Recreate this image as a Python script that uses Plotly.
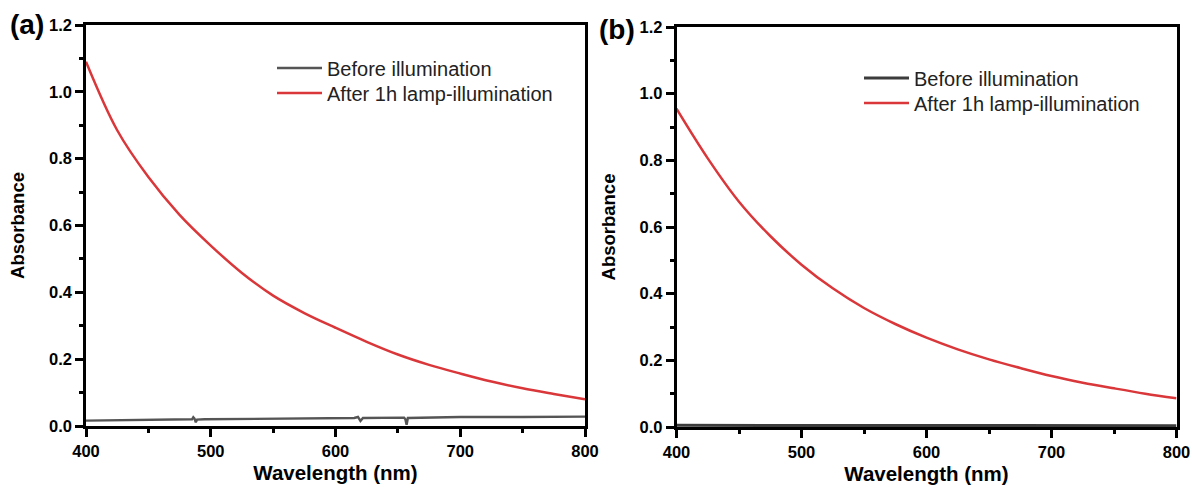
import plotly.graph_objects as go

# ---------------- data ----------------
wl_after_a = [400, 425, 450, 475, 500, 525, 550, 575, 600, 625, 650, 675, 700, 725, 750, 775, 800]
abs_after_a = [1.090, 0.885, 0.745, 0.632, 0.540, 0.458, 0.390, 0.338, 0.294, 0.252, 0.214, 0.183,
               0.157, 0.133, 0.113, 0.096, 0.080]

wl_before_a = [400, 420, 440, 460, 480, 485, 486, 487, 488, 489, 495, 520, 550, 580, 600, 615,
               618, 620, 622, 640, 655, 656, 657, 658, 680, 700, 750, 800]
abs_before_a = [0.016, 0.017, 0.016, 0.018, 0.019, 0.020, 0.026, 0.022, 0.011, 0.019, 0.020, 0.021,
                0.022, 0.023, 0.024, 0.024, 0.027, 0.015, 0.024, 0.025, 0.025, 0.020, 0.004, 0.024,
                0.026, 0.027, 0.027, 0.028]

wl_after_b = [400, 425, 450, 475, 500, 525, 550, 575, 600, 625, 650, 675, 700, 725, 750, 775, 800]
abs_after_b = [0.955, 0.806, 0.676, 0.573, 0.487, 0.416, 0.357, 0.309, 0.268, 0.233, 0.203, 0.177,
               0.153, 0.133, 0.116, 0.100, 0.086]

wl_before_b = [400, 500, 600, 700, 800]
abs_before_b = [0.005, 0.005, 0.004, 0.004, 0.004]

legend_labels = ["Before illumination", "After 1h lamp-illumination"]
panel_labels = ["(a)", "(b)"]
x_title = "Wavelength (nm)"
y_title = "Absorbance"

# ---------------- styling ----------------
W, H = 1192, 495
RED = "#d9373a"
GRAY_A = "#555555"
GRAY_B = "#3c3c3c"
FONT = "Arial, Liberation Sans, sans-serif"

fig = go.Figure()

fig.add_trace(go.Scatter(x=wl_before_a, y=abs_before_a, mode="lines", name=legend_labels[0],
                         line=dict(color=GRAY_A, width=2.4), xaxis="x", yaxis="y", legend="legend"))
fig.add_trace(go.Scatter(x=wl_after_a, y=abs_after_a, mode="lines", name=legend_labels[1],
                         line=dict(color=RED, width=2.5, shape="spline", smoothing=1.0),
                         xaxis="x", yaxis="y", legend="legend2"))
fig.add_trace(go.Scatter(x=wl_before_b, y=abs_before_b, mode="lines", name=legend_labels[0],
                         line=dict(color=GRAY_B, width=3), xaxis="x2", yaxis="y2", legend="legend3"))
fig.add_trace(go.Scatter(x=wl_after_b, y=abs_after_b, mode="lines", name=legend_labels[1],
                         line=dict(color=RED, width=2.5, shape="spline", smoothing=1.0),
                         xaxis="x2", yaxis="y2", legend="legend4"))


def px_x(p):
    return p / W


def px_y(p):
    return 1 - p / H


axis_common = dict(
    showline=True, linecolor="black", linewidth=2.5, mirror=True,
    ticks="outside", ticklen=8, tickwidth=2.5, tickcolor="black",
    showgrid=False, zeroline=False, automargin=False,
    tickfont=dict(family=FONT, size=16.5, color="#000", weight="bold"),
)

xa = dict(axis_common, range=[400, 800], tickvals=[400, 500, 600, 700, 800],
          minor=dict(dtick=50, tick0=400, ticks="outside", ticklen=4, tickwidth=2.5, tickcolor="black"),
          title=dict(text=x_title, font=dict(family=FONT, size=20.5, color="#000", weight="bold"), standoff=8))
ya = dict(axis_common, range=[0, 1.2], tickvals=[0, 0.2, 0.4, 0.6, 0.8, 1.0, 1.2],
          ticktext=["0.0", "0.2", "0.4", "0.6", "0.8", "1.0", "1.2"],
          minor=dict(dtick=0.1, tick0=0, ticks="outside", ticklen=4, tickwidth=2.5, tickcolor="black"),
          title=dict(text=y_title, font=dict(family=FONT, size=18.5, color="#000", weight="bold"), standoff=20))

legend_font = dict(family=FONT, size=20, color="#222")


def leg(xp, yp):
    return dict(x=px_x(xp), y=px_y(yp), xanchor="left", yanchor="top",
                bgcolor="rgba(0,0,0,0)", borderwidth=0, itemwidth=45, font=legend_font)


fig.update_layout(
    width=W, height=H,
    margin=dict(l=0, r=0, t=0, b=0),
    paper_bgcolor="white", plot_bgcolor="white",
    xaxis=dict(xa, domain=[px_x(86), px_x(585)], anchor="y"),
    yaxis=dict(ya, domain=[px_y(426), px_y(25)], anchor="x"),
    xaxis2=dict(xa, domain=[px_x(676.5), px_x(1176.5)], anchor="y2"),
    yaxis2=dict(ya, domain=[px_y(427), px_y(27)], anchor="x2"),
    legend=leg(272, 48.5),
    legend2=leg(272, 73.5),
    legend3=leg(859, 58.5),
    legend4=leg(859, 83.5),
    showlegend=True,
    annotations=[
        dict(text=panel_labels[0], x=px_x(8), y=px_y(25), xref="paper", yref="paper",
             xanchor="left", yanchor="middle", showarrow=False,
             font=dict(family=FONT, size=28, color="#000", weight="bold")),
        dict(text=panel_labels[1], x=px_x(597), y=px_y(29), xref="paper", yref="paper",
             xanchor="left", yanchor="middle", showarrow=False,
             font=dict(family=FONT, size=28, color="#000", weight="bold")),
    ],
)

fig.write_html("out.html")
